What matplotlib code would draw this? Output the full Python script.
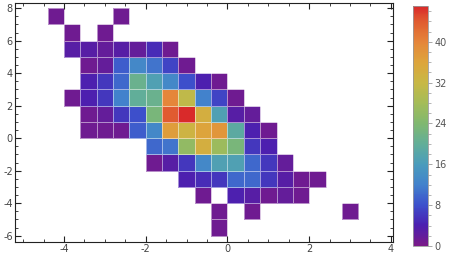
import numpy as np
import matplotlib
matplotlib.use("Agg")
import matplotlib.pyplot as plt
from matplotlib.colors import LinearSegmentedColormap
from matplotlib.ticker import MultipleLocator

plt.rcParams['axes.unicode_minus'] = False

# --- data: bin edges and counts (rows from top y=7 down to y=-6) ---
x_edges = np.round(np.arange(-4.4, 3.21, 0.4), 1)   # 19 columns
y_edges = np.arange(-6, 9)                          # 14 rows

counts = [
    # -4.4 -4.0 -3.6 -3.2 -2.8 -2.4 -2.0 -1.6 -1.2 -0.8 -0.4  0.0  0.4  0.8  1.2  1.6  2.0  2.4  2.8
    [1, 0, 0, 0, 1, 0, 0, 0, 0, 0, 0, 0, 0, 0, 0, 0, 0, 0, 0],      # y 7
    [0, 1, 0, 1, 0, 0, 0, 0, 0, 0, 0, 0, 0, 0, 0, 0, 0, 0, 0],      # y 6
    [0, 3, 3, 2, 3, 2, 5, 1, 0, 0, 0, 0, 0, 0, 0, 0, 0, 0, 0],      # y 5
    [0, 0, 1, 2, 9, 13, 11, 7, 1, 0, 0, 0, 0, 0, 0, 0, 0, 0, 0],    # y 4
    [0, 0, 4, 6, 10, 21, 17, 13, 8, 4, 1, 0, 0, 0, 0, 0, 0, 0, 0],  # y 3
    [0, 1, 4, 6, 12, 20, 21, 40, 31, 12, 7, 1, 0, 0, 0, 0, 0, 0, 0],  # y 2
    [0, 0, 1, 2, 6, 8, 23, 44, 47, 34, 17, 3, 2, 0, 0, 0, 0, 0, 0],   # y 1
    [0, 0, 1, 1, 1, 9, 13, 37, 33, 36, 38, 19, 4, 1, 0, 0, 0, 0, 0],  # y 0
    [0, 0, 0, 0, 0, 0, 10, 11, 26, 34, 27, 23, 6, 4, 0, 0, 0, 0, 0],  # y -1
    [0, 0, 0, 0, 0, 0, 1, 3, 6, 13, 17, 17, 10, 6, 2, 0, 0, 0, 0],    # y -2
    [0, 0, 0, 0, 0, 0, 0, 0, 4, 5, 6, 10, 10, 6, 3, 1, 1, 0, 0],      # y -3
    [0, 0, 0, 0, 0, 0, 0, 0, 0, 1, 0, 4, 3, 1, 2, 1, 0, 0, 0],        # y -4
    [0, 0, 0, 0, 0, 0, 0, 0, 0, 0, 1, 0, 1, 0, 0, 0, 0, 0, 1],        # y -5
    [0, 0, 0, 0, 0, 0, 0, 0, 0, 0, 1, 0, 0, 0, 0, 0, 0, 0, 0],        # y -6
]
count_max = 47

# Mathematica-like "Rainbow" gradient
rainbow = LinearSegmentedColormap.from_list("mma_rainbow", [
    (0.0, "#7a1a88"), (4/47, "#4b20b0"), (8/47, "#3d50cc"), (12/47, "#4282cc"),
    (16/47, "#4a9cbc"), (20/47, "#62ae98"), (24/47, "#80b870"), (28/47, "#a4bc58"),
    (32/47, "#c8b845"), (36/47, "#dda53c"), (40/47, "#e5863a"), (44/47, "#e05c30"),
    (1.0, "#d92a2a")])

Z = np.ma.masked_equal(np.array(counts)[::-1], 0)

fig = plt.figure(figsize=(4.51, 2.59), dpi=100)
ax = fig.add_axes([0.0333, 0.0668, 0.838, 0.920])
mesh = ax.pcolormesh(x_edges, y_edges, Z, cmap=rainbow, vmin=0, vmax=count_max,
                     edgecolors=(1, 1, 1, 0.5), linewidth=0.55)

ax.set_xlim(-5.2, 4.05)
ax.set_ylim(-6.37, 8.29)
ax.xaxis.set_major_locator(MultipleLocator(2))
ax.xaxis.set_minor_locator(MultipleLocator(0.5))
ax.yaxis.set_major_locator(MultipleLocator(2))
ax.yaxis.set_minor_locator(MultipleLocator(0.5))
ax.tick_params(which="both", direction="in", top=True, right=True,
               color="#222222", labelsize=7, labelcolor="#444444", pad=1.5)
ax.tick_params(which="major", length=4.5, width=0.8)
ax.tick_params(which="minor", length=2.2, width=0.6)
for s in ax.spines.values():
    s.set_color("#222222")
    s.set_linewidth(0.8)

# colour legend
cax = fig.add_axes([0.9164, 0.0502, 0.0333, 0.9266])
cb = fig.colorbar(mesh, cax=cax)
cb.set_ticks([0, 8, 16, 24, 32, 40])
cb.ax.yaxis.set_minor_locator(MultipleLocator(2))
cb.outline.set_edgecolor("#999999")
cb.outline.set_linewidth(0.6)
cb.ax.tick_params(which="both", color="#999999", labelsize=7, labelcolor="#555555", pad=1.5)
cb.ax.tick_params(which="major", length=3, width=0.6)
cb.ax.tick_params(which="minor", length=1.8, width=0.5)

fig.savefig("out.png", dpi=100)
